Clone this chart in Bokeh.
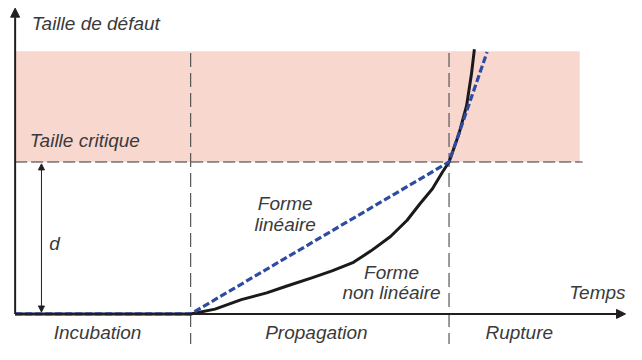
from bokeh.plotting import figure
from bokeh.models import Range1d, Arrow, NormalHead, BoxAnnotation
from bokeh.core.properties import value
from bokeh.embed import file_html
from bokeh.resources import INLINE

# Schematic data (time units, defect size units)
t_incubation_end = 18.0
t_rupture_start = 44.5
s_critical = 15.9
s_band_top = 27.5
t_band_end = 57.9

lin_t = [0.0, 18.0, 44.5, 48.4]
lin_s = [0.0, 0.0, 15.9, 27.4]

nl_t = [0.0, 18.0, 20.5, 23.2, 25.8, 27.8, 30.5, 32.5, 34.7, 36.5, 38.5, 40.2,
        41.5, 42.8, 43.8, 44.5, 45.5, 46.3, 46.8, 47.1]
nl_s = [0.0, 0.0, 0.5, 1.5, 2.2, 2.9, 3.8, 4.5, 5.4, 6.6, 8.1, 9.8,
        11.5, 13.1, 14.8, 15.9, 18.8, 21.8, 25.1, 27.7]

labels = ["Taille de défaut", "Taille critique", "d", "Forme", "linéaire",
          "Forme", "non linéaire", "Temps", "Incubation", "Propagation", "Rupture"]
label_t = [1.7, 1.5, 3.5, 27.7, 27.7, 38.6, 38.6, 62.6, 8.45, 30.9, 51.7]
label_s = [30.4, 18.2, 7.4, 11.6, 9.4, 4.3, 2.2, 2.2, -1.9, -1.9, -1.9]
label_align = ["left", "left", "left", "center", "center", "center", "center",
               "right", "center", "center", "center"]

AX = "#231f20"
TXT = "#3a3a3a"

p = figure(width=626, height=344, output_backend="svg", toolbar_location=None,
           x_range=Range1d(-1.5, 62.7), y_range=Range1d(-3.2, 32.8),
           x_axis_type=None, y_axis_type=None, min_border=0,
           background_fill_color="white", border_fill_color="white")
p.grid.visible = False
p.outline_line_color = None

# critical zone
p.add_layout(BoxAnnotation(left=0, right=t_band_end, bottom=s_critical, top=s_band_top,
                           fill_color="#f8d7cf", fill_alpha=1.0, line_color=None, level="underlay"))

# stage separators
for tx in [t_incubation_end, t_rupture_start]:
    p.line([tx, tx], [s_band_top - 0.2, -3.2], line_color="#555555", line_width=1.2, line_dash="14 6")

# critical line
p.line([0, t_band_end + 0.3], [s_critical, s_critical], line_color="#333333", line_width=1.2, line_dash="12 4")

# axes
p.add_layout(Arrow(end=NormalHead(size=9, fill_color=AX, line_color=AX),
                   x_start=0, y_start=0, x_end=0, y_end=32.0, line_color=AX, line_width=2))
p.add_layout(Arrow(end=NormalHead(size=9, fill_color=AX, line_color=AX),
                   x_start=0, y_start=0, x_end=62.6, y_end=0, line_color=AX, line_width=2))

# d arrow
p.add_layout(Arrow(start=NormalHead(size=6, fill_color=AX, line_color=AX),
                   end=NormalHead(size=6, fill_color=AX, line_color=AX),
                   x_start=2.7, y_start=0.2, x_end=2.7, y_end=15.7, line_color=AX, line_width=1))

# curves
p.line(nl_t, nl_s, line_color="#1a1a1a", line_width=3, line_join="round")
p.line(lin_t, lin_s, line_color="#2d4ba3", line_width=3.2, line_dash="7 3")

for txt, tx, sy, al in zip(labels, label_t, label_s, label_align):
    p.text(x=[tx], y=[sy], text=[txt], text_align=al, text_baseline="middle",
           text_font=value("Liberation Sans"), text_font_style="italic",
           text_font_size="19px", text_color=TXT)

open("out.html", "w").write(file_html(p, INLINE))
